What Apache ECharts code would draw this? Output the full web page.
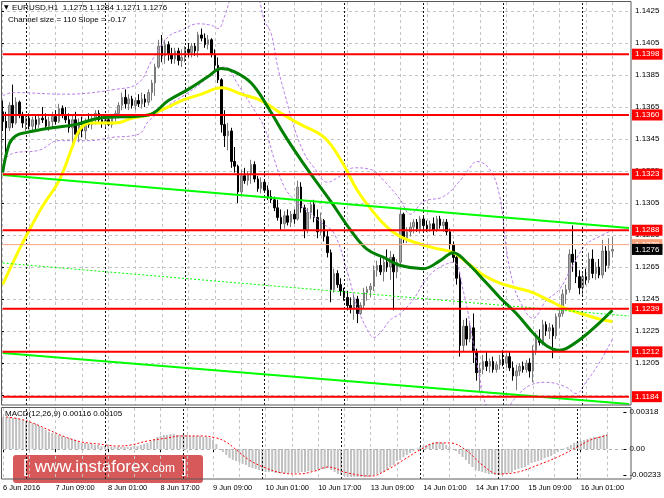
<!DOCTYPE html>
<html><head><meta charset="utf-8">
<script src="https://cdn.jsdelivr.net/npm/echarts@6/dist/echarts.min.js"></script>
<style>html,body{margin:0;padding:0;background:#fff}#c{width:664px;height:498px}</style>
</head><body><div id="c"></div>
<script>
// ---- data ----
const tickLabels = ['6 Jun 2016','7 Jun 09:00','8 Jun 01:00','8 Jun 17:00','9 Jun 09:00','10 Jun 01:00','10 Jun 17:00','13 Jun 09:00','14 Jun 01:00','14 Jun 17:00','15 Jun 09:00','16 Jun 01:00'];
const priceTicks = ['1.1185','1.1205','1.1225','1.1245','1.1265','1.1285','1.1305','1.1325','1.1345','1.1365','1.1385','1.1405','1.1425'];
const slotCount = 190;
// [open, high, low, close]
const ohlc = [
[1.1362,1.1369,1.1350,1.1356],[1.1356,1.1362,1.1331,1.1352],[1.1352,1.1368,1.1350,1.1366],[1.1366,1.1379,1.1352,1.1355],[1.1355,1.1371,1.1354,1.1368],
[1.1368,1.1369,1.1358,1.1360],[1.1360,1.1362,1.1352,1.1355],[1.1355,1.1360,1.1350,1.1358],[1.1358,1.1361,1.1351,1.1353],[1.1353,1.1359,1.1350,1.1357],
[1.1357,1.1360,1.1351,1.1354],[1.1354,1.1360,1.1352,1.1358],[1.1358,1.1365,1.1355,1.1357],[1.1357,1.1361,1.1351,1.1353],[1.1353,1.1359,1.1350,1.1356],
[1.1356,1.1362,1.1352,1.1359],[1.1359,1.1363,1.1354,1.1356],[1.1356,1.1367,1.1355,1.1364],[1.1364,1.1366,1.1358,1.1360],[1.1360,1.1365,1.1355,1.1357],
[1.1357,1.1361,1.1349,1.1352],[1.1352,1.1360,1.1341,1.1357],[1.1357,1.1362,1.1344,1.1348],[1.1348,1.1358,1.1343,1.1355],[1.1355,1.1359,1.1346,1.1350],
[1.1350,1.1358,1.1345,1.1356],[1.1356,1.1361,1.1352,1.1354],[1.1354,1.1360,1.1351,1.1358],[1.1358,1.1363,1.1354,1.1361],[1.1361,1.1363,1.1355,1.1357],
[1.1357,1.1360,1.1352,1.1355],[1.1355,1.1359,1.1351,1.1357],[1.1357,1.1360,1.1353,1.1354],[1.1354,1.1360,1.1352,1.1359],[1.1359,1.1363,1.1356,1.1361],
[1.1361,1.1368,1.1358,1.1366],[1.1366,1.1374,1.1363,1.1371],[1.1371,1.1376,1.1364,1.1367],[1.1367,1.1373,1.1363,1.1370],[1.1370,1.1372,1.1364,1.1366],
[1.1366,1.1371,1.1363,1.1369],[1.1369,1.1373,1.1365,1.1367],[1.1367,1.1374,1.1364,1.1370],[1.1370,1.1373,1.1365,1.1368],[1.1368,1.1376,1.1366,1.1374],
[1.1374,1.1382,1.1369,1.1380],[1.1380,1.1392,1.1372,1.1390],[1.1390,1.1407,1.1389,1.1403],[1.1403,1.1410,1.1393,1.1397],[1.1397,1.1407,1.1392,1.1404],
[1.1404,1.1406,1.1394,1.1398],[1.1398,1.1402,1.1392,1.1395],[1.1395,1.1402,1.1392,1.1400],[1.1400,1.1402,1.1391,1.1394],[1.1394,1.1401,1.1390,1.1396],
[1.1396,1.1403,1.1393,1.1401],[1.1401,1.1405,1.1396,1.1399],[1.1399,1.1405,1.1396,1.1403],[1.1403,1.1405,1.1397,1.1400],[1.1400,1.1412,1.1396,1.1410],
[1.1410,1.1414,1.1406,1.1408],[1.1408,1.1411,1.1402,1.1404],[1.1404,1.1410,1.1401,1.1407],[1.1407,1.1408,1.1396,1.1398],[1.1398,1.1401,1.1388,1.1391],
[1.1391,1.1396,1.1380,1.1382],[1.1382,1.1383,1.1349,1.1354],[1.1354,1.1363,1.1340,1.1347],[1.1347,1.1355,1.1338,1.1350],[1.1350,1.1352,1.1327,1.1331],
[1.1331,1.1340,1.1324,1.1328],[1.1328,1.1329,1.1305,1.1312],[1.1312,1.1326,1.1309,1.1322],[1.1322,1.1327,1.1317,1.1319],[1.1319,1.1325,1.1316,1.1323],
[1.1323,1.1332,1.1317,1.1329],[1.1329,1.1331,1.1318,1.1320],[1.1320,1.1322,1.1312,1.1314],[1.1314,1.1321,1.1311,1.1318],[1.1318,1.1320,1.1312,1.1313],
[1.1313,1.1316,1.1307,1.1309],[1.1309,1.1313,1.1305,1.1307],[1.1307,1.1309,1.1300,1.1302],[1.1302,1.1307,1.1294,1.1296],[1.1296,1.1301,1.1288,1.1292],
[1.1292,1.1300,1.1289,1.1297],[1.1297,1.1301,1.1291,1.1293],[1.1293,1.1300,1.1290,1.1298],[1.1298,1.1301,1.1292,1.1295],[1.1295,1.1319,1.1294,1.1315],
[1.1315,1.1318,1.1299,1.1302],[1.1302,1.1304,1.1283,1.1288],[1.1288,1.1302,1.1286,1.1299],[1.1299,1.1307,1.1295,1.1304],[1.1304,1.1307,1.1293,1.1296],
[1.1296,1.1301,1.1283,1.1287],[1.1287,1.1299,1.1285,1.1294],[1.1294,1.1295,1.1281,1.1284],[1.1284,1.1288,1.1271,1.1274],[1.1274,1.1276,1.1243,1.1251],
[1.1251,1.1264,1.1249,1.1261],[1.1261,1.1263,1.1252,1.1254],[1.1254,1.1258,1.1247,1.1250],[1.1250,1.1252,1.1244,1.1246],[1.1246,1.1250,1.1238,1.1241],
[1.1241,1.1246,1.1236,1.1239],[1.1239,1.1248,1.1232,1.1245],[1.1245,1.1247,1.1230,1.1236],[1.1236,1.1243,1.1235,1.1241],[1.1241,1.1252,1.1239,1.1249],
[1.1249,1.1253,1.1244,1.1251],[1.1251,1.1255,1.1246,1.1253],[1.1253,1.1266,1.1250,1.1263],[1.1263,1.1269,1.1259,1.1266],[1.1266,1.1271,1.1260,1.1262],
[1.1262,1.1271,1.1256,1.1268],[1.1268,1.1276,1.1262,1.1265],[1.1265,1.1275,1.1257,1.1271],[1.1271,1.1273,1.1238,1.1262],[1.1262,1.1270,1.1258,1.1268],
[1.1268,1.1302,1.1266,1.1298],[1.1298,1.1299,1.1280,1.1283],[1.1283,1.1290,1.1280,1.1287],[1.1287,1.1293,1.1284,1.1290],[1.1290,1.1295,1.1286,1.1293],
[1.1293,1.1295,1.1287,1.1289],[1.1289,1.1297,1.1286,1.1295],[1.1295,1.1297,1.1288,1.1291],[1.1291,1.1294,1.1287,1.1289],[1.1289,1.1294,1.1287,1.1292],
[1.1292,1.1296,1.1285,1.1288],[1.1288,1.1297,1.1287,1.1295],[1.1295,1.1297,1.1289,1.1291],[1.1291,1.1295,1.1287,1.1293],[1.1293,1.1295,1.1285,1.1287],
[1.1287,1.1289,1.1276,1.1279],[1.1279,1.1281,1.1268,1.1271],[1.1271,1.1273,1.1254,1.1258],[1.1258,1.1262,1.1209,1.1216],[1.1216,1.1232,1.1212,1.1228],
[1.1228,1.1233,1.1216,1.1220],[1.1220,1.1230,1.1218,1.1227],[1.1227,1.1236,1.1205,1.1212],[1.1212,1.1214,1.1194,1.1199],[1.1199,1.1205,1.1187,1.1201],
[1.1201,1.1210,1.1198,1.1206],[1.1206,1.1212,1.1200,1.1203],[1.1203,1.1208,1.1199,1.1206],[1.1206,1.1209,1.1199,1.1201],[1.1201,1.1206,1.1199,1.1204],
[1.1204,1.1210,1.1201,1.1207],[1.1207,1.1213,1.1203,1.1205],[1.1205,1.1211,1.1202,1.1209],[1.1209,1.1212,1.1200,1.1202],[1.1202,1.1206,1.1194,1.1197],
[1.1197,1.1204,1.1188,1.1200],[1.1200,1.1205,1.1197,1.1203],[1.1203,1.1206,1.1199,1.1201],[1.1201,1.1207,1.1199,1.1205],[1.1205,1.1208,1.1196,1.1200],
[1.1200,1.1216,1.1193,1.1213],[1.1213,1.1224,1.1210,1.1220],[1.1220,1.1226,1.1216,1.1218],[1.1218,1.1232,1.1216,1.1229],[1.1229,1.1231,1.1222,1.1225],
[1.1225,1.1230,1.1220,1.1227],[1.1227,1.1229,1.1208,1.1222],[1.1222,1.1236,1.1220,1.1234],[1.1234,1.1238,1.1227,1.1236],[1.1236,1.1251,1.1234,1.1248],
[1.1248,1.1254,1.1242,1.1251],[1.1251,1.1276,1.1249,1.1273],[1.1273,1.1291,1.1262,1.1268],[1.1268,1.1276,1.1255,1.1259],[1.1259,1.1263,1.1248,1.1252],
[1.1252,1.1262,1.1247,1.1259],[1.1259,1.1264,1.1254,1.1257],[1.1257,1.1274,1.1255,1.1270],[1.1270,1.1276,1.1258,1.1261],[1.1261,1.1268,1.1257,1.1265],
[1.1265,1.1270,1.1258,1.1260],[1.1260,1.1282,1.1258,1.1275],[1.1275,1.1278,1.1262,1.1266],[1.1266,1.1283,1.1264,1.1275],[1.1275,1.1284,1.1271,1.1276]
];
// moving averages and bands: [bar, price]
const greenMA = [[0,1.1324],[2,1.1342],[4,1.1347],[7,1.1349],[15,1.1352],[22,1.1354],[29,1.1358],[44,1.1360],[50,1.1369],[56,1.1376],[62,1.1384],[66,1.1389],[70,1.1387],[75,1.1380],[80,1.1365],[84,1.1351],[88,1.1338],[93,1.1323],[99,1.1306],[105,1.1288],[110,1.1276],[115,1.1271],[120,1.1266],[127,1.1264],[132,1.1269],[136,1.1274],[140,1.1268],[146,1.1255],[150,1.1246],[155,1.1236],[160,1.1224],[164,1.1216],[168,1.1213],[170,1.1214],[175,1.1221],[180,1.1230],[184,1.1238]];
const yellowMA = [[0,1.1254],[5,1.1276],[8,1.1288],[12,1.1303],[17,1.1319],[21,1.1340],[23,1.1350],[26,1.1355],[34,1.1355],[39,1.1358],[44,1.1360],[50,1.1365],[54,1.1369],[60,1.1373],[66,1.1377],[72,1.1373],[78,1.1369],[84,1.1361],[90,1.1354],[97,1.1346],[102,1.1332],[107,1.1313],[112,1.1299],[116,1.1290],[120,1.1284],[125,1.1280],[130,1.1277],[136,1.1274],[140,1.1268],[145,1.1260],[150,1.1255],[155,1.1252],[160,1.1249],[165,1.1244],[170,1.1239],[176,1.1235],[181,1.1232],[184,1.1231]];
const upperBand = [[0,1.1372],[3,1.1374],[19,1.1373],[34,1.1376],[41,1.1380],[45,1.1394],[50,1.1409],[54,1.1413],[59,1.1417],[63,1.1416],[65,1.1414],[67,1.1422],[69,1.1435],[73,1.1455],[77,1.1435],[79,1.1419],[81,1.1411],[83,1.1390],[85,1.1374],[88,1.1352],[91,1.1336],[94,1.1327],[98,1.1318],[102,1.1322],[106,1.1327],[111,1.1326],[115,1.1319],[120,1.1307],[123,1.1298],[127,1.1306],[133,1.1309],[138,1.1319],[141,1.1327],[143,1.1331],[147,1.1326],[150,1.1309],[152,1.1276],[154,1.1255],[156,1.1244],[160,1.1233],[164,1.1244],[168,1.1251],[172,1.1266],[176,1.1279],[180,1.1284],[184,1.1288]];
const lowerBand = [[0,1.1331],[3,1.1336],[11,1.1338],[17,1.1344],[26,1.1344],[33,1.1346],[41,1.1348],[44,1.1356],[50,1.1366],[56,1.1374],[60,1.1380],[64,1.1388],[67,1.1390],[71,1.1379],[75,1.1366],[79,1.1352],[82,1.1332],[85,1.1315],[88,1.1307],[92,1.1300],[96,1.1293],[100,1.1286],[104,1.1262],[107,1.1240],[110,1.1226],[112,1.1221],[114,1.1224],[117,1.1232],[120,1.1236],[124,1.1245],[128,1.1258],[132,1.1265],[136,1.1268],[139,1.1250],[142,1.1218],[144,1.1195],[146,1.1178],[149,1.1172],[152,1.1176],[155,1.1184],[159,1.1191],[164,1.1193],[170,1.1190],[173,1.1186],[176,1.1193],[180,1.1205],[184,1.1220]];
const channelUpper = [[0,1.13225],[189,1.12894]];
const channelMiddle = [[0,1.12675],[189,1.12344]];
const channelLower = [[0,1.12113],[189,1.11794]];
const levels = [1.1398,1.1360,1.1323,1.1288,1.1239,1.1212,1.1184];
const askPrice = 1.1279;
const lastPrice = 1.1276;
const daySeparators = [7,31,55,79,103,127,151,175];
const macdHist = [
0.00248,0.00248,0.00248,0.00241,0.00241,0.00233,0.00225,0.00217,0.00210,0.00202,
0.00194,0.00178,0.00163,0.00147,0.00132,0.00124,0.00116,0.00109,0.00101,0.00093,
0.00085,0.00078,0.00070,0.00054,0.00047,0.00047,0.00039,0.00039,0.00031,0.00031,
0.00023,0.00023,0.00023,0.00016,0.00016,0.00016,0.00016,0.00016,0.00016,0.00016,
0.00023,0.00023,0.00031,0.00039,0.00047,0.00062,0.00078,0.00093,0.00101,0.00109,
0.00109,0.00116,0.00116,0.00109,0.00109,0.00109,0.00109,0.00101,0.00101,0.00101,
0.00101,0.00093,0.00093,0.00085,0.00070,0.00039,-0.00004,-0.00023,-0.00047,-0.00070,
-0.00085,-0.00093,-0.00101,-0.00116,-0.00124,-0.00140,-0.00147,-0.00155,-0.00163,-0.00171,
-0.00178,-0.00178,-0.00178,-0.00186,-0.00186,-0.00186,-0.00186,-0.00186,-0.00186,-0.00186,
-0.00186,-0.00178,-0.00178,-0.00171,-0.00171,-0.00163,-0.00163,-0.00155,-0.00155,-0.00147,
-0.00163,-0.00178,-0.00194,-0.00202,-0.00210,-0.00217,-0.00217,-0.00217,-0.00217,-0.00217,
-0.00217,-0.00217,-0.00210,-0.00202,-0.00194,-0.00186,-0.00178,-0.00163,-0.00140,-0.00124,
-0.00093,-0.00085,-0.00062,-0.00047,-0.00031,-0.00016,0.00004,0.00016,0.00023,0.00031,
0.00039,0.00047,0.00054,0.00054,0.00047,0.00031,0.00016,-0.00002,-0.00016,-0.00039,
-0.00062,-0.00085,-0.00116,-0.00140,-0.00163,-0.00171,-0.00178,-0.00186,-0.00194,-0.00194,
-0.00202,-0.00202,-0.00202,-0.00194,-0.00186,-0.00178,-0.00163,-0.00155,-0.00147,-0.00140,
-0.00124,-0.00109,-0.00101,-0.00093,-0.00085,-0.00070,-0.00062,-0.00054,-0.00039,-0.00023,
-0.00008,0.00003,0.00016,0.00031,0.00047,0.00054,0.00062,0.00070,0.00078,0.00085,
0.00093,0.00093,0.00101,0.00109,0.00116
];
const macdSignal = [[1,0.00248],[5,0.00233],[9,0.00202],[14,0.00147],[19,0.00093],[24,0.00054],[29,0.00039],[35,0.00023],[39,0.00031],[44,0.00062],[50,0.00085],[54,0.00101],[60,0.00101],[65,0.00085],[68,0.00054],[70,0.00016],[75,-0.00085],[80,-0.00147],[85,-0.00186],[90,-0.00194],[95,-0.00171],[99,-0.00140],[105,-0.00186],[112,-0.00210],[117,-0.00163],[122,-0.00085],[127,-0.00008],[132,0.00047],[136,0.00047],[141,-0.00008],[146,-0.00124],[151,-0.00194],[157,-0.00178],[163,-0.00124],[169,-0.00062],[175,0.00016],[179,0.00070],[184,0.00105]];
const macdMax = 0.00318, macdMin = -0.00233;

// ---- chart ----
const FONT = '"Liberation Sans", Arial, sans-serif';
const cats = Array.from({length: slotCount}, (_, i) => String(i));
const gridLine = {show: true, lineStyle: {color: '#c4c4c4', type: [3, 3], width: 1}};
const chart = echarts.init(document.getElementById('c'), null, {renderer: 'canvas'});
const sepMark = () => ({
  silent: true, symbol: ['none', 'none'], animation: false,
  lineStyle: {color: '#111', type: [2, 2], width: 1}, label: {show: false},
  data: daySeparators.map(i => ({xAxis: i}))
});
const levelSeries = (v, color, width, z, showLine) => ({
  type: 'line', xAxisIndex: 0, yAxisIndex: 0, z: z, showSymbol: false, silent: true,
  data: [[0, v], [slotCount - 1, v]],
  lineStyle: {color: color, width: width, opacity: showLine ? 1 : 0},
  endLabel: {show: true, formatter: v.toFixed(4), distance: 3, backgroundColor: color, color: '#fff',
    fontSize: 8, fontFamily: FONT, padding: [1, 3, 1, 3], lineHeight: 9}
});

const series = [
  {type: 'candlestick', xAxisIndex: 0, yAxisIndex: 0, z: 3, barWidth: 2,
    data: ohlc.map(r => [r[0], r[3], r[2], r[1]]),
    itemStyle: {color: '#a8a8a8', color0: '#000000', borderColor: '#7a7a7a', borderColor0: '#000000', borderWidth: 1},
    markLine: sepMark()},
  {type: 'line', xAxisIndex: 0, yAxisIndex: 0, data: upperBand, smooth: 0.4, showSymbol: false, z: 4,
    lineStyle: {color: '#b97de8', width: 1, type: [3, 2]}},
  {type: 'line', xAxisIndex: 0, yAxisIndex: 0, data: lowerBand, smooth: 0.4, showSymbol: false, z: 4,
    lineStyle: {color: '#b97de8', width: 1, type: [3, 2]}},
  {type: 'line', xAxisIndex: 0, yAxisIndex: 0, data: yellowMA, smooth: 0.4, showSymbol: false, z: 5,
    lineStyle: {color: '#ffff00', width: 3}},
  {type: 'line', xAxisIndex: 0, yAxisIndex: 0, data: greenMA, smooth: 0.4, showSymbol: false, z: 6,
    lineStyle: {color: '#008000', width: 3}},
  {type: 'line', xAxisIndex: 0, yAxisIndex: 0, data: channelUpper, showSymbol: false, z: 7,
    lineStyle: {color: '#00ff00', width: 2}},
  {type: 'line', xAxisIndex: 0, yAxisIndex: 0, data: channelMiddle, showSymbol: false, z: 7,
    lineStyle: {color: '#00ff00', width: 1, type: [2, 2]}},
  {type: 'line', xAxisIndex: 0, yAxisIndex: 0, data: channelLower, showSymbol: false, z: 7,
    lineStyle: {color: '#00ff00', width: 2}}
];
levels.forEach(v => series.push(levelSeries(v, '#ff0000', 2, 8, true)));
series.push(levelSeries(askPrice, '#f7a47e', 1, 9, true));
series.push(levelSeries(lastPrice, '#000000', 1, 10, false));
series.push(
  {type: 'bar', xAxisIndex: 1, yAxisIndex: 1, data: macdHist, barWidth: 2, z: 3,
    itemStyle: {color: '#c0c0c0'}, markLine: sepMark()},
  {type: 'line', xAxisIndex: 1, yAxisIndex: 1, data: macdSignal, smooth: 0.4, showSymbol: false, z: 4,
    lineStyle: {color: '#ff0000', width: 1, type: [2, 2]},
    markLine: {silent: true, symbol: ['none', 'none'], animation: false, label: {show: false},
      lineStyle: {color: '#b0b0b0', type: [3, 3], width: 1}, data: [{yAxis: 0}]}}
);

const option = {
  animation: false,
  backgroundColor: '#fff',
  grid: [
    {left: 2.7, right: 35, top: 2, height: 403},
    {left: 2.7, right: 35, top: 408, height: 71},
    {left: 1, right: 33, top: 11, height: 384}
  ],
  xAxis: [
    {gridIndex: 0, type: 'category', data: cats, boundaryGap: false, axisLine: {show: false}, axisTick: {show: false}, axisLabel: {show: false}, splitLine: Object.assign({interval: 7}, gridLine)},
    {gridIndex: 1, type: 'category', data: cats, boundaryGap: false, axisLine: {show: false},
      axisTick: {show: true, interval: 15, length: 3, lineStyle: {color: '#000'}},
      axisLabel: {show: true, interval: 15, align: 'left', margin: 5, fontSize: 7.5, fontFamily: FONT, color: '#000',
        formatter: (v, idx) => (idx % 16 === 0 && tickLabels[idx / 16]) ? tickLabels[idx / 16] : ''},
      splitLine: Object.assign({interval: 7}, gridLine)},
    {gridIndex: 2, type: 'value', show: false, min: 0, max: 1}
  ],
  yAxis: [
    {gridIndex: 0, type: 'value', min: 1.11788, max: 1.14306, show: false},
    {gridIndex: 1, type: 'value', min: macdMin, max: macdMax, position: 'right', axisLine: {show: false},
      axisTick: {show: true, length: 3, customValues: [0.00287, 0, -0.00202], lineStyle: {color: '#000'}},
      axisLabel: {show: true, margin: 6, fontSize: 8, fontFamily: FONT, color: '#000', customValues: [0.00287, 0, -0.00202],
        formatter: v => v > 0.001 ? macdMax.toFixed(5) : (v < -0.001 ? macdMin.toFixed(5) : '0.00')},
      splitLine: {show: false}},
    {gridIndex: 2, type: 'value', position: 'right', min: 0, max: 240, interval: 20, axisLine: {show: false},
      axisTick: {show: true, length: 3, lineStyle: {color: '#000'}},
      axisLabel: {show: true, margin: 4, fontSize: 8, fontFamily: FONT, color: '#000', formatter: v => priceTicks[Math.round(v / 20)] || ''},
      splitLine: gridLine}
  ],
  series: series,
  graphic: [
    {type: 'rect', z: 50, silent: true, shape: {x: 1.5, y: 1.5, width: 629.5, height: 403.5}, style: {fill: 'none', stroke: '#5a5a5a', lineWidth: 1}},
    {type: 'rect', z: 50, silent: true, shape: {x: 1.5, y: 407.5, width: 629.5, height: 71.5}, style: {fill: 'none', stroke: '#5a5a5a', lineWidth: 1}},
    {type: 'text', z: 60, left: 4, top: 4, style: {text: '▼', font: '6px "DejaVu Sans"', fill: '#000'}},
    {type: 'text', z: 60, left: 12, top: 4, style: {text: 'EURUSD,H1  1.1275 1.1284 1.1271 1.1276', font: '8px ' + FONT, fill: '#000'}},
    {type: 'text', z: 60, left: 8, top: 15.5, style: {text: 'Channel size = 110 Slope = -0.17', font: '8px ' + FONT, fill: '#000'}},
    {type: 'text', z: 60, left: 5, top: 410, style: {text: 'MACD(12,26,9) 0.00116 0.00105', font: '8px ' + FONT, fill: '#000'}},
    {type: 'group', z: 70, left: 13, top: 455, children: [
      {type: 'rect', shape: {x: 0, y: 0, width: 190, height: 28, r: 3}, style: {fill: 'rgba(206,52,52,0.82)'}},
      {type: 'text', left: 10, top: 3, style: {
        text: '{b|[}  {w|www.instaforex}{c|.com}  {b|]}',
        rich: {
          b: {fontSize: 18, fontFamily: FONT, fill: '#fff', fontWeight: 'lighter'},
          w: {fontSize: 17, fontFamily: FONT, fill: '#fff'},
          c: {fontSize: 12, fontFamily: FONT, fill: '#fff', padding: [3, 0, 0, 0]}
        }}}
    ]}
  ]
};
chart.setOption(option);
</script>
</body></html>
